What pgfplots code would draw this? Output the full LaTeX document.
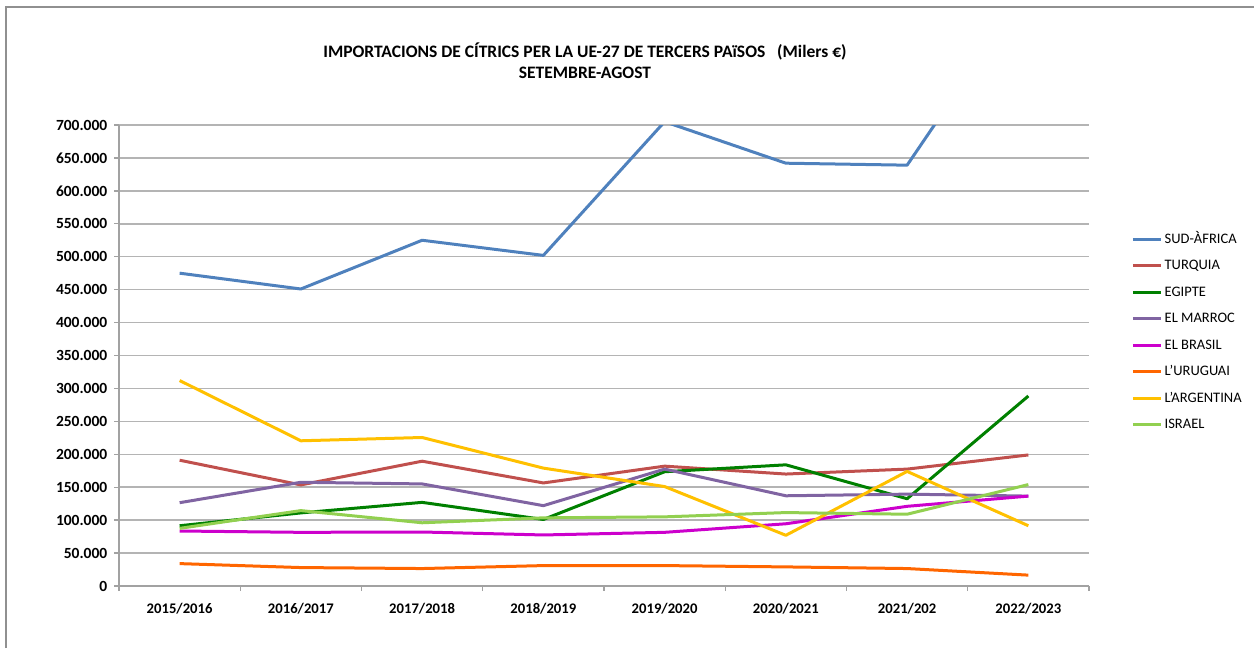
\documentclass[border=0pt]{standalone}
\usepackage{fontspec}
\setmainfont{Carlito}
\usepackage{pgfplots}
\pgfplotsset{compat=1.18}
\definecolor{csud}{HTML}{4F81BD}
\definecolor{ctur}{HTML}{C0504D}
\definecolor{cegi}{HTML}{008000}
\definecolor{cmar}{HTML}{8064A2}
\definecolor{cbra}{HTML}{CC00CC}
\definecolor{curu}{HTML}{FF6600}
\definecolor{carg}{HTML}{FFC000}
\definecolor{cisr}{HTML}{92D050}
\definecolor{cgrid}{HTML}{B4B4B4}
\begin{document}
\begin{tikzpicture}
\useasboundingbox (0,0) rectangle (752.4pt,388.8pt);
\draw[color=cgrid!80!black, line width=0.8pt] (3.6pt,0pt) -- (3.6pt,384.6pt) -- (752.4pt,384.6pt);
\begin{axis}[
  at={(71.4pt,37.2pt)}, anchor=south west,
  scale only axis, width=582pt, height=276.6pt,
  clip mode=individual,
  xmin=-0.5, xmax=7.5, ymin=0, ymax=700000,
  xtick={0,...,7},
  xticklabels={2015/2016,2016/2017,2017/2018,2018/2019,2019/2020,2020/2021,2021/202,2022/2023},
  minor xtick={-0.5,0.5,...,7.5},
  major x tick style={draw=none},
  ytick={0,50000,...,700000},
  scaled y ticks=false,
  /pgf/number format/.cd, fixed, precision=0, 1000 sep={.}, assume math mode=true, /pgfplots/.cd,
  tick align=outside, major tick length=3pt, minor tick length=3pt,
  tick style={color=cgrid!90!black, line width=0.8pt},
  axis x line*=bottom, axis y line*=left,
  axis line style={color=cgrid!90!black, line width=0.8pt, -},
  ymajorgrids, major grid style={color=cgrid, line width=0.9pt},
  xticklabel style={font=\fontsize{8.8}{10}\selectfont\bfseries, yshift=-4pt},
  yticklabel style={font=\fontsize{9.3}{10}\selectfont\bfseries, xshift=-0.5pt},
  every axis plot/.append style={line width=1.8pt, no markers, line join=round},
  legend style={at={(1.0433,0.772)}, anchor=north west, draw=none, fill=none,
    inner sep=0pt, row sep=5.5pt,
    nodes={font=\fontsize{8.7}{10}\selectfont, text height=6.5pt, text depth=1.5pt, inner sep=1.2pt}},
  legend cell align=left,
  legend image code/.code={\draw[#1,line width=1.8pt] (0pt,0pt) -- (17pt,0pt);},
]
\addplot[csud] coordinates {(0,475000)(1,451000)(2,525000)(3,502000)(4,705000)(5,642000)(6,639000)(7,910000)};
\addlegendentry{SUD-ÀFRICA}
\addplot[ctur] coordinates {(0,191000)(1,153500)(2,189500)(3,156500)(4,182000)(5,170000)(6,177500)(7,199000)};
\addlegendentry{TURQUIA}
\addplot[cegi] coordinates {(0,91500)(1,111000)(2,127000)(3,101000)(4,173500)(5,184000)(6,132500)(7,288500)};
\addlegendentry{EGIPTE}
\addplot[cmar] coordinates {(0,126500)(1,157500)(2,155000)(3,122000)(4,177500)(5,137000)(6,139500)(7,136500)};
\addlegendentry{EL MARROC}
\addplot[cbra] coordinates {(0,83500)(1,81500)(2,82000)(3,77500)(4,81500)(5,94500)(6,121000)(7,136500)};
\addlegendentry{EL BRASIL}
\addplot[curu] coordinates {(0,34000)(1,28000)(2,26500)(3,31000)(4,31000)(5,29000)(6,26500)(7,16500)};
\addlegendentry{L'URUGUAI}
\addplot[carg] coordinates {(0,312000)(1,220500)(2,225500)(3,179000)(4,151000)(5,77000)(6,174000)(7,91500)};
\addlegendentry{L'ARGENTINA}
\addplot[cisr] coordinates {(0,87500)(1,114500)(2,96000)(3,103500)(4,105000)(5,111500)(6,109000)(7,154000)};
\addlegendentry{ISRAEL}
\node[font=\fontsize{10.5}{12.6}\selectfont\bfseries, align=center, anchor=center]
  at (rel axis cs:0.4804,1.139) {IMPORTACIONS DE CÍTRICS PER LA UE-27 DE TERCERS PAïSOS\ \ \ (Milers €)\\SETEMBRE-AGOST};
\end{axis}
\end{tikzpicture}
\end{document}
